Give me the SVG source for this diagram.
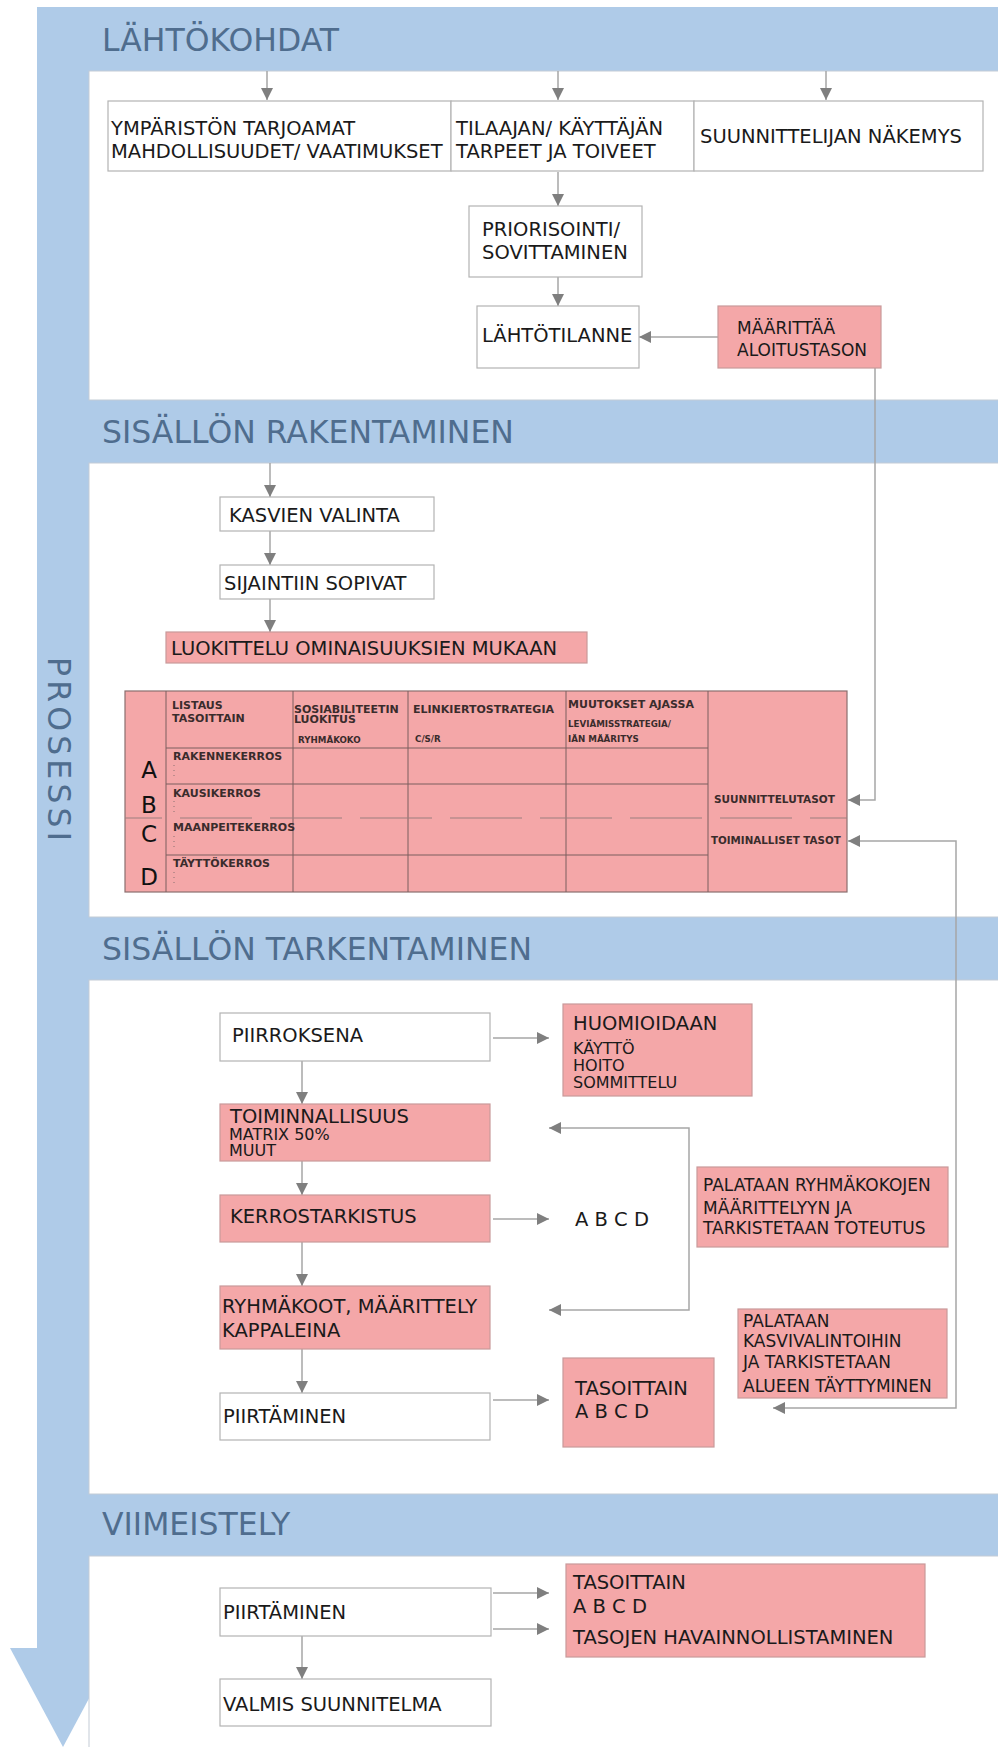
<svg xmlns="http://www.w3.org/2000/svg" width="998" height="1747" viewBox="0 0 998 1747">
<defs>
<style>
.hdr{font-family:"DejaVu Sans",Verdana,sans-serif;font-size:31.5px;fill:#4f6d8e}
.t{font-family:"DejaVu Sans",Verdana,sans-serif;font-size:19.5px;fill:#1a1a1a}
.s{font-size:17px}
.xs{font-size:16px}
.tb{font-family:"DejaVu Sans",Verdana,sans-serif;font-weight:bold;font-size:11px;fill:#3a2c2c}
.tbs{font-size:8.7px}
.lt{font-family:"DejaVu Sans",Verdana,sans-serif;font-size:23px;fill:#111}
.box{fill:#fff;stroke:#b3b3b3;stroke-width:1.2}
.pink{fill:#f4a7a8;stroke:#c9999a;stroke-width:1.2}
.wa{fill:#fff;stroke:#c3ccd5;stroke-width:1}
.con{fill:none;stroke:#a6a6a6;stroke-width:1.5}
.tl{stroke:#7a5e5e;stroke-width:1;fill:none}
</style>
<marker id="ah" markerUnits="userSpaceOnUse" markerWidth="12" markerHeight="12" refX="11" refY="5.5" orient="auto-start-reverse" viewBox="0 0 11 11"><path d="M0,0 L11,5.5 L0,11 z" fill="#7f7f7f"/></marker>
</defs>
<rect width="998" height="1747" fill="#fff"/>
<g id="process-frame">
<rect x="37" y="7" width="961" height="1641" fill="#afcbe8"/>
<polygon points="10,1648 116,1648 63,1747" fill="#afcbe8"/>
<rect class="wa" x="89" y="71" width="910" height="329"/>
<rect class="wa" x="89" y="463" width="910" height="454"/>
<rect class="wa" x="89" y="980" width="910" height="514"/>
<rect class="wa" x="89" y="1556" width="910" height="192"/>
<text class="hdr" x="102" y="51">LÄHTÖKOHDAT</text>
<text class="hdr" x="102" y="443">SISÄLLÖN RAKENTAMINEN</text>
<text class="hdr" x="102" y="960">SISÄLLÖN TARKENTAMINEN</text>
<text class="hdr" x="102" y="1535">VIIMEISTELY</text>
<text class="hdr" transform="translate(48,749) rotate(90)" text-anchor="middle" textLength="184" lengthAdjust="spacing">PROSESSI</text>
</g>
<g id="connectors">
<path class="con" d="M267,71V100" marker-end="url(#ah)"/>
<path class="con" d="M558,71V100" marker-end="url(#ah)"/>
<path class="con" d="M826,71V100" marker-end="url(#ah)"/>
<path class="con" d="M558,172V206" marker-end="url(#ah)"/>
<path class="con" d="M558,277V306" marker-end="url(#ah)"/>
<path class="con" d="M718,337H639" marker-end="url(#ah)"/>
<path class="con" d="M875,368V800H848" marker-end="url(#ah)"/>
<path class="con" d="M270,463V497" marker-end="url(#ah)"/>
<path class="con" d="M270,531V565" marker-end="url(#ah)"/>
<path class="con" d="M270,599V632" marker-end="url(#ah)"/>
<path class="con" d="M773,1408H956V841H848" marker-start="url(#ah)" marker-end="url(#ah)"/>
<path class="con" d="M493,1038H549" marker-end="url(#ah)"/>
<path class="con" d="M302,1061V1104" marker-end="url(#ah)"/>
<path class="con" d="M302,1161V1195" marker-end="url(#ah)"/>
<path class="con" d="M493,1219H549" marker-end="url(#ah)"/>
<path class="con" d="M302,1242V1286" marker-end="url(#ah)"/>
<path class="con" d="M549,1128H689V1310H549" marker-start="url(#ah)" marker-end="url(#ah)"/>
<path class="con" d="M302,1349V1393" marker-end="url(#ah)"/>
<path class="con" d="M493,1400H549" marker-end="url(#ah)"/>
<path class="con" d="M493,1593H549" marker-end="url(#ah)"/>
<path class="con" d="M493,1629H549" marker-end="url(#ah)"/>
<path class="con" d="M302,1636V1679" marker-end="url(#ah)"/>
</g>
<g id="ymparisto"><rect class="box" x="108" y="101" width="343" height="70"/><text class="t" x="111" y="135">YMPÄRISTÖN TARJOAMAT</text><text class="t" x="111" y="158">MAHDOLLISUUDET/ VAATIMUKSET</text></g>
<g id="tilaaja"><rect class="box" x="451" y="101" width="243" height="70"/><text class="t" x="456" y="135">TILAAJAN/ KÄYTTÄJÄN</text><text class="t" x="456" y="158">TARPEET JA TOIVEET</text></g>
<g id="suunnittelija"><rect class="box" x="694" y="101" width="289" height="70"/><text class="t" x="700" y="143">SUUNNITTELIJAN NÄKEMYS</text></g>
<g id="priorisointi"><rect class="box" x="469" y="206" width="173" height="71"/><text class="t" x="482" y="236">PRIORISOINTI/</text><text class="t" x="482" y="259">SOVITTAMINEN</text></g>
<g id="lahtotilanne"><rect class="box" x="477" y="306" width="162" height="62"/><text class="t" x="482" y="342">LÄHTÖTILANNE</text></g>
<g id="maarittaa"><rect class="pink" x="718" y="306" width="163" height="62"/><text class="t s" x="737" y="334">MÄÄRITTÄÄ</text><text class="t s" x="737" y="356">ALOITUSTASON</text></g>
<g id="kasvien-valinta"><rect class="box" x="220" y="497" width="214" height="34"/><text class="t" x="229" y="522">KASVIEN VALINTA</text></g>
<g id="sijaintiin"><rect class="box" x="220" y="565" width="214" height="34"/><text class="t" x="224" y="590">SIJAINTIIN SOPIVAT</text></g>
<g id="luokittelu"><rect class="pink" x="166" y="632" width="421" height="31"/><text class="t" x="171" y="655">LUOKITTELU OMINAISUUKSIEN MUKAAN</text></g>
<g id="taulukko">
<rect x="125" y="691" width="722" height="201" fill="#f4a7a8" stroke="#8a6e6e" stroke-width="1.2"/>
<path class="tl" d="M166,691V892M293,691V892M408,691V892M566,691V892M708,691V892M166,748H708M166,784H708M166,855H708"/>
<path d="M125,818H847" stroke="#9b7f7f" stroke-width="1" stroke-dasharray="72 18" stroke-dashoffset="35"/>
<text class="lt" x="149" y="778" text-anchor="middle">A</text>
<text class="lt" x="149" y="813" text-anchor="middle">B</text>
<text class="lt" x="149" y="842" text-anchor="middle">C</text>
<text class="lt" x="149" y="885" text-anchor="middle">D</text>
<text class="tb" x="172" y="709">LISTAUS</text><text class="tb" x="172" y="722">TASOITTAIN</text>
<text class="tb" x="294" y="713">SOSIABILITEETIN</text><text class="tb" x="294" y="723">LUOKITUS</text>
<text class="tb tbs" x="298" y="743">RYHMÄKOKO</text>
<text class="tb" x="413" y="713">ELINKIERTOSTRATEGIA</text>
<text class="tb tbs" x="415" y="742">C/S/R</text>
<text class="tb" x="568" y="708">MUUTOKSET AJASSA</text>
<text class="tb tbs" x="568" y="727">LEVIÄMISSTRATEGIA/</text><text class="tb tbs" x="568" y="742">IÄN MÄÄRITYS</text>
<text class="tb" x="173" y="760">RAKENNEKERROS</text>
<text class="tb" x="173" y="797">KAUSIKERROS</text>
<text class="tb" x="173" y="831">MAANPEITEKERROS</text>
<text class="tb" x="173" y="867">TÄYTTÖKERROS</text>
<path d="M174,765V779M174,801V815M174,836V850M174,872V886" stroke="#8a7070" stroke-width="1" stroke-dasharray="1 4"/>
<text class="tb" x="714" y="803" style="font-size:10.5px">SUUNNITTELUTASOT</text>
<text class="tb" x="711" y="844" style="font-size:10.3px">TOIMINALLISET TASOT</text>
</g>
<g id="piirroksena"><rect class="box" x="220" y="1013" width="270" height="48"/><text class="t" x="232" y="1042">PIIRROKSENA</text></g>
<g id="huomioidaan"><rect class="pink" x="563" y="1004" width="189" height="92"/><text class="t" x="573" y="1030">HUOMIOIDAAN</text><text class="t xs" x="573" y="1054">KÄYTTÖ</text><text class="t xs" x="573" y="1071">HOITO</text><text class="t xs" x="573" y="1088">SOMMITTELU</text></g>
<g id="toiminnallisuus"><rect class="pink" x="220" y="1104" width="270" height="57"/><text class="t" x="230" y="1123">TOIMINNALLISUUS</text><text class="t xs" x="229" y="1140">MATRIX 50%</text><text class="t xs" x="229" y="1156">MUUT</text></g>
<g id="kerrostarkistus"><rect class="pink" x="220" y="1195" width="270" height="47"/><text class="t" x="230" y="1223">KERROSTARKISTUS</text></g>
<g id="abcd1"><text class="t" x="575" y="1226">A B C D</text></g>
<g id="ryhmakoot"><rect class="pink" x="220" y="1286" width="270" height="63"/><text class="t" x="222" y="1313">RYHMÄKOOT, MÄÄRITTELY</text><text class="t" x="222" y="1337">KAPPALEINA</text></g>
<g id="palataan1"><rect class="pink" x="697" y="1167" width="251" height="80"/><text class="t s" x="703" y="1191">PALATAAN RYHMÄKOKOJEN</text><text class="t s" x="703" y="1214">MÄÄRITTELYYN JA</text><text class="t s" x="703" y="1234">TARKISTETAAN TOTEUTUS</text></g>
<g id="palataan2"><rect class="pink" x="738" y="1309" width="209" height="89"/><text class="t s" x="743" y="1327">PALATAAN</text><text class="t s" x="743" y="1347">KASVIVALINTOIHIN</text><text class="t s" x="743" y="1368">JA TARKISTETAAN</text><text class="t s" x="743" y="1392">ALUEEN TÄYTTYMINEN</text></g>
<g id="piirtaminen1"><rect class="box" x="220" y="1393" width="270" height="47"/><text class="t" x="223" y="1423">PIIRTÄMINEN</text></g>
<g id="tasoittain1"><rect class="pink" x="563" y="1358" width="151" height="89"/><text class="t" x="575" y="1395">TASOITTAIN</text><text class="t" x="575" y="1418">A B C D</text></g>
<g id="piirtaminen2"><rect class="box" x="220" y="1588" width="271" height="48"/><text class="t" x="223" y="1619">PIIRTÄMINEN</text></g>
<g id="tasoittain2"><rect class="pink" x="566" y="1564" width="359" height="93"/><text class="t" x="573" y="1589">TASOITTAIN</text><text class="t" x="573" y="1613">A B C D</text><text class="t" x="573" y="1644">TASOJEN HAVAINNOLLISTAMINEN</text></g>
<g id="valmis"><rect class="box" x="220" y="1679" width="271" height="47"/><text class="t" x="223" y="1711">VALMIS SUUNNITELMA</text></g>
</svg>
